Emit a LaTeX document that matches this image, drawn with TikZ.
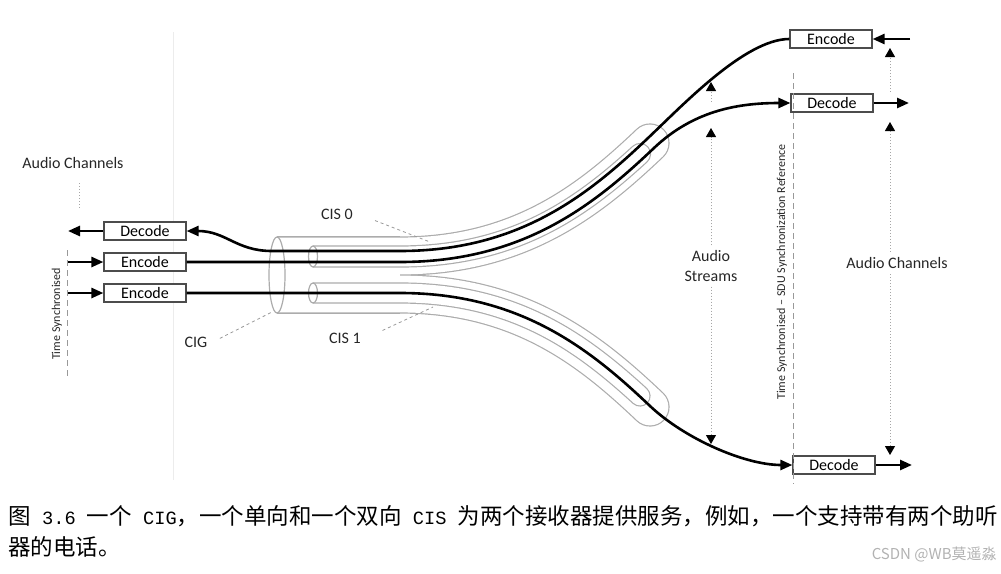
\documentclass[tikz,border=0pt]{standalone}
\usepackage{fontspec}
\setmainfont{Carlito}
\newfontfamily\cjkfont{Noto Sans CJK SC}
\newfontfamily\capmono[Scale=0.83]{Liberation Mono}
\usetikzlibrary{arrows.meta}
\tikzset{
 wire/.style={line width=1.3pt},
 wirearrow/.style={wire,-{Triangle[length=6pt,width=5pt]}},
 codec/.style={draw=black!70,line width=.6pt,fill=white,minimum width=41pt,minimum height=9pt,inner sep=0,font=\fontsize{8}{9.6}\selectfont},
 tag/.style={font=\fontsize{8}{9.6}\selectfont,text=black!85,align=center,inner sep=2.5pt},
 synctag/.style={font=\fontsize{6}{7.2}\selectfont,text=black!85,rotate=90,inner sep=0},
 tubeedge/.style={draw=gray!65,line cap=round,line width=#1+.6pt},
 tubehollow/.style={draw=white,line cap=round,line width=#1-.6pt},
 tubemouth/.style={draw=gray!65,line width=.6pt},
 leader/.style={draw=gray!80,line width=.4pt,dash pattern=on 1.5pt off 1.5pt},
 syncline/.style={draw=gray!80,line width=.4pt,dash pattern=on 3pt off 2pt},
 measure/.style={draw=gray!70,line width=.5pt,densely dotted},
 measurearrow/.style={measure,-{Triangle[length=4.5pt,width=5pt,black]}},
 caption/.style={font=\cjkfont\fontsize{11.25}{15.5}\selectfont,inner sep=0}
}
\begin{document}
\begin{tikzpicture}[x=.5pt,y=-.5pt]
\path[use as bounding box] (0,0) rectangle (1001,573);
\draw[gray!15,line width=.5pt] (173,32) -- (173,480);
\begin{scope}
\clip (277,0) rectangle (1001,573);
\draw[tubeedge=38pt,line cap=butt] (277,275) -- (400,275);
\draw[tubeedge=19pt] (277,256) -- (400,256) .. controls (520,256) and (590,200) .. (650,143);
\draw[tubeedge=19pt] (277,294) -- (400,294) .. controls (520,294) and (590,350) .. (650,407);
\draw[tubehollow=38pt,line cap=butt] (277,275) -- (400,275);
\draw[tubehollow=19pt] (277,256) -- (400,256) .. controls (520,256) and (590,200) .. (650,143);
\draw[tubehollow=19pt] (277,294) -- (400,294) .. controls (520,294) and (590,350) .. (650,407);
\end{scope}
\begin{scope}
\clip (313,0) rectangle (1001,573);
\draw[tubeedge=10.5pt] (313,256.5) -- (400,256.5) .. controls (515,256.5) and (582,207) .. (640,154);
\draw[tubeedge=10pt] (313,293) -- (400,293) .. controls (515,293) and (582,343) .. (640,396);
\draw[tubehollow=10.5pt] (313,256.5) -- (400,256.5) .. controls (515,256.5) and (582,207) .. (640,154);
\draw[tubehollow=10pt] (313,293) -- (400,293) .. controls (515,293) and (582,343) .. (640,396);
\end{scope}
\draw[tubemouth] (277,275) ellipse [x radius=8,y radius=38];
\draw[tubemouth] (313,256.5) ellipse [x radius=4.5,y radius=10.5];
\draw[tubemouth] (313,293) ellipse [x radius=4.5,y radius=10];
\node[codec] (decL) at (145,231) {Decode};
\node[codec] (encLa) at (145,262) {Encode};
\node[codec] (encLb) at (145,293) {Encode};
\node[codec] (encR) at (831,39) {Encode};
\node[codec] (decRa) at (832,103) {Decode};
\node[codec] (decRb) at (834,465) {Decode};
\coordinate (outL) at (68,231);
\coordinate (inLa) at (68,262);
\coordinate (inLb) at (68,293);
\coordinate (inR) at (910,39);
\coordinate (outRa) at (909,103);
\coordinate (outRb) at (912,465);
\draw[wirearrow] (decL.west) -- (outL);
\draw[wirearrow] (inLa) -- (encLa.west);
\draw[wirearrow] (inLb) -- (encLb.west);
\draw[wirearrow] (inR) -- (encR.east);
\draw[wirearrow] (decRa.east) -- (outRa);
\draw[wirearrow] (decRb.east) -- (outRb);
\draw[wirearrow] (encR.west) .. controls (745,39) and (682,106) .. (647,139) .. controls (587,196) and (518,251) .. (400,251) -- (272,251) .. controls (236,251) and (226,231) .. (decL.east);
\draw[wirearrow] (encLa.east) -- (400,262) .. controls (523,262) and (594,205) .. (654,148) .. controls (692,112) and (735,103) .. (decRa.west);
\draw[wirearrow] (encLb.east) -- (400,293) .. controls (520,293) and (590,349) .. (650,406) .. controls (685,439) and (745,465) .. (decRb.west);
\node[tag] (cis0) at (337,214) {CIS 0};
\node[tag] (cis1) at (345,338) {CIS 1};
\node[tag] (cig) at (196,342) {CIG};
\coordinate (cis0at) at (430,242);
\coordinate (cis1at) at (433,307);
\coordinate (cigat) at (272,312);
\draw[leader,shorten <=9pt] (cis0.east) -- (cis0at);
\draw[leader,shorten <=9pt] (cis1.east) -- (cis1at);
\draw[leader,shorten <=4pt] (cig.east) -- (cigat);
\node[tag,anchor=west] (chanL) at (17,163) {Audio Channels};
\draw[measure] (79,183) -- (79,208);
\draw[syncline] (67,250) -- (67,378);
\node[synctag] (syncL) at (57,314) {Time Synchronised};
\draw[syncline] (793,73) -- (793,484);
\node[synctag] (syncR) at (782,272) {Time Synchronised – SDU Synchronization Reference};
\node[tag] (streams) at (711,266) {Audio\\Streams};
\coordinate (streamsTop) at (711,128);
\coordinate (streamsBot) at (711,444);
\draw[measurearrow] (streams.north) -- (streamsTop);
\draw[measurearrow] (streams.south) -- (streamsBot);
\draw[measurearrow] (711,102) -- (711,82);
\node[tag] (chanR) at (897,263) {Audio Channels};
\coordinate (chanTop) at (890,122);
\coordinate (chanBot) at (890,455);
\draw[measurearrow] (chanTop |- chanR.north) -- (chanTop);
\draw[measurearrow] (chanBot |- chanR.south) -- (chanBot);
\draw[measurearrow] (890,92) -- (890,48);
\node[caption,anchor=base west] (capA) at (8,524) {图{\capmono{} 3.6 }一个{\capmono{} CIG}，一个单向和一个双向{\capmono{} CIS }为两个接收器提供服务，例如，一个支持带有两个助听};
\node[caption,anchor=base west] (capB) at (8,555) {器的电话。};
\node[font=\cjkfont\fontsize{7.5}{9}\selectfont,text=gray!60,anchor=base east,inner sep=0] (mark) at (997,559) {CSDN @WB莫遥淼};
\end{tikzpicture}
\end{document}
